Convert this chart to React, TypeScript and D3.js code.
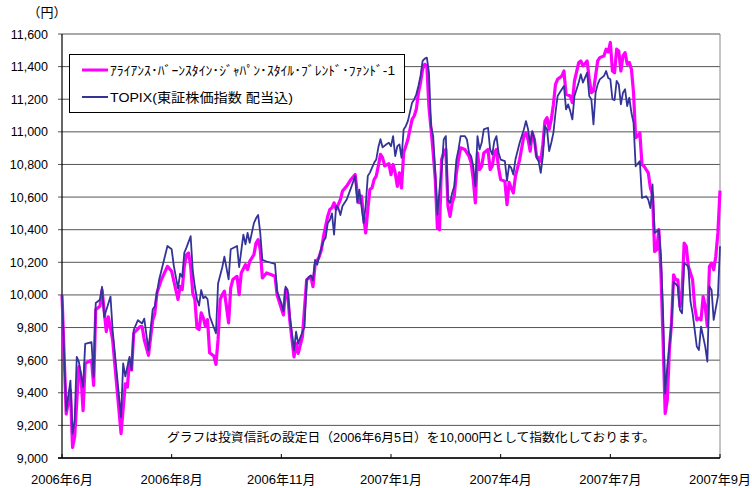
import * as d3 from 'd3'

// [trading-day index, value]; index 0 = 2006-06-05, 312 = end of Aug 2007
const fundPoints: [number, number][] = [
  [0, 10000], [2, 9270], [4, 9415], [5, 9065], [6, 9130], [8, 9560], [9, 9500], [10, 9290], [11, 9580], [14, 9600],
  [15, 9445], [16, 9910], [18, 9930], [19, 10030], [21, 9775], [22, 9865], [24, 9725], [28, 9150], [30, 9455], [31, 9435],
  [32, 9600], [33, 9540], [34, 9765], [37, 9805], [38, 9805], [39, 9725], [41, 9630], [43, 9845], [44, 9885], [45, 10010],
  [47, 10090], [50, 10175], [52, 10145], [55, 9972], [56, 10053], [57, 10033], [58, 10176], [59, 10247], [60, 10257], [61, 10176],
  [62, 10012], [63, 9972], [64, 9798], [65, 9788], [66, 9890], [67, 9859], [68, 9808], [69, 9849], [70, 9645], [72, 9625],
  [73, 9574], [74, 9727], [75, 9972], [76, 10002], [77, 10023], [79, 9829], [80, 10043], [81, 10094], [83, 10114], [84, 10002],
  [85, 10135], [87, 10186], [88, 10155], [89, 10206], [91, 10247], [92, 10318], [93, 10339], [94, 10278], [95, 10104], [97, 10135],
  [99, 10125], [101, 10114], [102, 10000], [105, 9877], [106, 10031], [107, 10010], [108, 9846], [110, 9620], [111, 9703], [112, 9641],
  [114, 9744], [116, 10093], [117, 10103], [118, 10113], [119, 10051], [120, 10185], [122, 10236], [123, 10277], [124, 10359], [126, 10483],
  [127, 10524], [128, 10534], [129, 10565], [130, 10524], [132, 10585], [133, 10637], [135, 10667], [137, 10708], [139, 10739], [140, 10626],
  [141, 10565], [142, 10606], [143, 10483], [144, 10380], [145, 10524], [146, 10647], [147, 10657], [148, 10708], [149, 10729], [150, 10791],
  [151, 10862], [152, 10842], [153, 10791], [155, 10805], [156, 10738], [157, 10800], [158, 10748], [159, 10666], [160, 10748], [161, 10656],
  [162, 10871], [163, 10912], [164, 10953], [166, 11076], [167, 11097], [168, 11138], [169, 11240], [170, 11302], [171, 11384], [172, 11414],
  [173, 11404], [174, 11150], [175, 11015], [176, 10871], [177, 10707], [178, 10410], [179, 10400], [180, 10830], [181, 10871], [182, 10892],
  [183, 10544], [184, 10482], [185, 10564], [186, 10605], [187, 10748], [188, 10830], [189, 10902], [191, 10892], [192, 10871], [193, 10851],
  [194, 10810], [195, 10707], [196, 10564], [197, 10871], [198, 10769], [199, 10789], [200, 10871], [202, 10892], [203, 10769], [204, 10789],
  [205, 10871], [206, 10892], [207, 10780], [208, 10707], [210, 10697], [211, 10554], [212, 10690], [213, 10656], [214, 10625], [215, 10728],
  [217, 10830], [219, 10974], [220, 10994], [221, 10953], [222, 10882], [223, 10994], [224, 10953], [225, 10851], [226, 10841], [227, 10820],
  [228, 10923], [229, 11066], [230, 11087], [231, 11015], [232, 11076], [233, 11168], [234, 11291], [235, 11322], [237, 11343], [238, 11373],
  [239, 11230], [241, 11220], [242, 11179], [243, 11312], [245, 11425], [246, 11435], [247, 11404], [249, 11435], [250, 11322], [251, 11240],
  [252, 11250], [253, 11343], [254, 11435], [255, 11455], [257, 11466], [258, 11507], [259, 11490], [260, 11548], [261, 11373], [262, 11363],
  [263, 11507], [264, 11496], [265, 11373], [266, 11466], [267, 11486], [268, 11414], [269, 11425], [270, 11384], [271, 11240], [272, 10964],
  [273, 10974], [274, 10994], [275, 10800], [276, 10789], [277, 10769], [278, 10748], [279, 10656], [280, 10615], [281, 10267], [282, 10277],
  [283, 10400], [284, 10134], [285, 9724], [286, 9273], [287, 9355], [288, 9662], [289, 9826], [290, 10123], [291, 10093], [292, 10093],
  [293, 9929], [294, 10011], [295, 10318], [296, 10298], [297, 10175], [298, 10134], [299, 10093], [300, 9929], [301, 9847], [302, 9857],
  [303, 9847], [304, 9990], [305, 9929], [306, 9806], [307, 10175], [308, 10195], [309, 10154], [310, 10236], [311, 10380], [312, 10640],
]

const topixPoints: [number, number][] = [
  [0, 10000], [2, 9290], [4, 9475], [5, 9150], [6, 9230], [7, 9620], [8, 9590], [10, 9435], [11, 9700], [14, 9710],
  [15, 9495], [16, 9950], [18, 9970], [19, 10050], [20, 9865], [23, 9990], [24, 9785], [28, 9250], [29, 9580], [30, 9500],
  [32, 9620], [33, 9540], [34, 9785], [36, 9845], [38, 9825], [39, 9855], [41, 9660], [43, 9910], [44, 9930], [46, 10090],
  [50, 10300], [52, 10280], [53, 10180], [55, 10040], [56, 10130], [57, 10110], [58, 10260], [59, 10290], [61, 10360], [62, 10150],
  [63, 10050], [64, 9975], [65, 9935], [66, 10030], [67, 9980], [68, 9990], [69, 9975], [70, 9870], [72, 9800], [73, 9765],
  [74, 10070], [76, 10170], [77, 10235], [79, 10095], [80, 10280], [83, 10300], [84, 10170], [85, 10270], [86, 10370], [87, 10310],
  [88, 10380], [89, 10320], [91, 10440], [92, 10470], [93, 10490], [94, 10380], [95, 10215], [97, 10205], [101, 10190], [102, 10020],
  [104, 9950], [105, 9900], [106, 10050], [107, 10030], [108, 9870], [110, 9660], [111, 9775], [112, 9700], [113, 9740], [115, 9805],
  [116, 10090], [117, 10110], [118, 10120], [119, 10090], [120, 10215], [121, 10185], [122, 10240], [123, 10290], [124, 10330], [125, 10350],
  [126, 10440], [127, 10460], [128, 10500], [129, 10370], [130, 10545], [131, 10535], [132, 10490], [133, 10545], [135, 10585], [137, 10655],
  [139, 10730], [140, 10565], [141, 10645], [142, 10545], [143, 10440], [144, 10545], [145, 10730], [146, 10750], [148, 10810], [149, 10830],
  [150, 10905], [151, 10955], [152, 10905], [154, 10925], [155, 10933], [156, 10912], [157, 10974], [158, 10851], [159, 10912], [160, 10923],
  [161, 10841], [162, 11015], [163, 11035], [164, 11066], [166, 11179], [167, 11199], [168, 11230], [169, 11281], [170, 11343], [171, 11435],
  [172, 11449], [173, 11455], [174, 11363], [175, 11035], [176, 10974], [177, 10748], [178, 10492], [179, 10646], [180, 10769], [181, 10953],
  [182, 10974], [183, 10584], [184, 10564], [185, 10625], [186, 10666], [187, 10830], [188, 10892], [189, 10974], [191, 10974], [192, 10953],
  [193, 10871], [194, 10851], [195, 10789], [196, 10666], [197, 10974], [198, 10892], [199, 10933], [200, 11015], [202, 11025], [203, 10892],
  [204, 10861], [205, 10943], [206, 10974], [207, 10871], [208, 10830], [210, 10820], [211, 10700], [212, 10795], [213, 10779], [214, 10738],
  [215, 10830], [217, 10933], [219, 11015], [220, 11066], [221, 11015], [222, 10923], [223, 11005], [224, 10953], [225, 10841], [226, 10820],
  [227, 10748], [228, 10851], [229, 11035], [230, 11015], [231, 10882], [232, 10933], [233, 10994], [234, 11117], [235, 11220], [237, 11261],
  [238, 11281], [239, 11138], [240, 11168], [241, 11127], [242, 11076], [243, 11220], [245, 11302], [246, 11353], [247, 11302], [249, 11363],
  [250, 11220], [251, 11199], [252, 11046], [253, 11240], [254, 11291], [255, 11322], [257, 11343], [258, 11373], [259, 11330], [260, 11322],
  [261, 11200], [262, 11195], [263, 11312], [264, 11291], [265, 11168], [266, 11240], [267, 11261], [268, 11158], [269, 11209], [270, 11117],
  [271, 11056], [272, 10789], [274, 10820], [275, 10595], [277, 10605], [278, 10584], [279, 10533], [280, 10677], [281, 10380], [283, 10400],
  [284, 10236], [285, 9888], [286, 9396], [287, 9560], [288, 9683], [289, 9826], [290, 10082], [292, 10052], [293, 9908], [294, 9888],
  [295, 10195], [297, 10175], [298, 9960], [299, 9888], [300, 9785], [301, 9683], [302, 9662], [303, 9806], [305, 9683], [306, 9591],
  [307, 10052], [308, 10031], [309, 9847], [311, 9990], [312, 10298],
]

const xTickDays = [0, 52, 104, 156, 208, 260, 312]
const xTickLabels = ['2006年6月', '2006年8月', '2006年11月', '2007年1月', '2007年4月', '2007年7月', '2007年9月']
const yTicks = d3.range(9000, 11601, 200)

const fundName = 'ｱﾗｲｱﾝｽ･ﾊﾞｰﾝｽﾀｲﾝ･ｼﾞｬﾊﾟﾝ･ｽﾀｲﾙ･ﾌﾞﾚﾝﾄﾞ･ﾌｧﾝﾄﾞ-1'
const topixName = 'TOPIX(東証株価指数 配当込)'
const note = 'グラフは投資信託の設定日（2006年6月5日）を10,000円として指数化しております。'

const W = 752
const H = 488
const left = 62
const right = 720
const top = 34
const bottom = 458
const font = '"Liberation Sans", Arial, "Noto Sans CJK JP", sans-serif'

const App = () => {
  const x = d3.scaleLinear().domain([0, 312]).range([left, right])
  const y = d3.scaleLinear().domain([9000, 11600]).range([bottom, top])
  const line = d3.line<[number, number]>().x(d => x(d[0])).y(d => y(d[1]))

  return (
    <svg width={W} height={H} style={{ position: 'absolute', left: 0, top: 0, background: '#fff' }} fontFamily={font}>
      <rect x={0} y={0} width={W} height={H} fill="#fff" />
      {yTicks.map(t => (
        <g key={t}>
          <line x1={left - 4} x2={right} y1={y(t)} y2={y(t)} stroke="#555" strokeWidth={1} />
          <text x={48} y={y(t) + 4.5} fontSize={12.5} textAnchor="end" fill="#000">
            {d3.format(',')(t)}
          </text>
        </g>
      ))}
      <line x1={right} x2={right} y1={top} y2={bottom} stroke="#8a8a8a" />
      <line x1={left} x2={left} y1={top} y2={bottom} stroke="#000" strokeWidth={1.2} />
      <line x1={left - 4} x2={right} y1={bottom} y2={bottom} stroke="#000" strokeWidth={1.3} />
      {xTickDays.map((d, i) => (
        <g key={d}>
          <line x1={x(d)} x2={x(d)} y1={bottom} y2={bottom - 4} stroke="#000" />
          <text x={x(d)} y={484} fontSize={13} textAnchor="middle" fill="#000">
            {xTickLabels[i]}
          </text>
        </g>
      ))}
      <text x={47} y={17} fontSize={13} textAnchor="middle" fill="#000">（円）</text>

      <path d={line(fundPoints) ?? ''} fill="none" stroke="#ff00ff" strokeWidth={3.2} strokeLinejoin="round" />
      <path d={line(topixPoints) ?? ''} fill="none" stroke="#333399" strokeWidth={1.8} strokeLinejoin="round" />

      <rect x={69.5} y={54.5} width={335} height={58} fill="#fff" stroke="#000" strokeWidth={1} />
      <line x1={82} x2={108} y1={70} y2={70} stroke="#ff00ff" strokeWidth={3} />
      <text x={110} y={74.5} fontSize={13} fill="#000" textLength={285} lengthAdjust="spacingAndGlyphs">
        {fundName}
      </text>
      <line x1={82} x2={108} y1={97} y2={97} stroke="#333399" strokeWidth={2} />
      <text x={110} y={101.5} fontSize={13} fill="#000" textLength={183} lengthAdjust="spacingAndGlyphs">
        {topixName}
      </text>

      <text x={167} y={441.5} fontSize={12.5} fill="#000" textLength={488} lengthAdjust="spacingAndGlyphs">
        {note}
      </text>
    </svg>
  )
}

export default App
